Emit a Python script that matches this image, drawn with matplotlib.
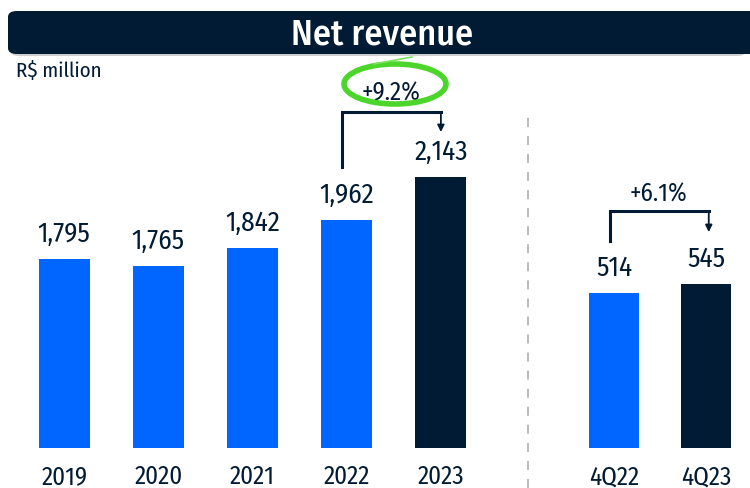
import matplotlib.pyplot as plt
from matplotlib.patches import FancyBboxPatch, Arc
from matplotlib.lines import Line2D

# data
years = ["2019", "2020", "2021", "2022", "2023"]
annual = [1795, 1765, 1842, 1962, 2143]
quarters = ["4Q22", "4Q23"]
quarterly = [514, 545]

blue = "#0066FF"
navy = "#001B33"
plt.rcParams["font.family"] = ["Fira Sans Condensed", "DejaVu Sans"]

W, H = 750, 489
fig = plt.figure(figsize=(W / 100, H / 100), dpi=100)


def px(x, y):
    # pixel (from top-left) -> figure fraction
    return x / W, 1 - y / H


def box(x0, x1, y_top, y_bot):
    return [x0 / W, 1 - y_bot / H, (x1 - x0) / W, (y_bot - y_top) / H]


# title bar
shadow = FancyBboxPatch(px(10, 57), 0.995 - 10 / W, 43 / H,
                        boxstyle="round,pad=0,rounding_size=0.012",
                        transform=fig.transFigure, fc="#b0b0b0", ec="none", alpha=0.6)
bar = FancyBboxPatch(px(8, 55), 1.02 - 8 / W, 43 / H,
                     boxstyle="round,pad=0,rounding_size=0.012",
                     transform=fig.transFigure, fc=navy, ec="none")
fig.patches.extend([shadow, bar])
fig.text(*px(382, 35), "Net revenue", color="white", fontsize=26,
         fontweight="medium", ha="center", va="center")
fig.text(*px(16, 71), "R$ million", color=navy, fontsize=15, ha="left", va="center")

# annual panel
ax1 = fig.add_axes(box(17, 488, 100, 449))
x1 = range(len(years))
ax1.bar(x1, annual, width=0.54, color=[blue] * 4 + [navy])
ax1.set_xlim(-0.5, 4.5)
ax1.set_ylim(993, 2474)
for i, v in enumerate(annual):
    ax1.annotate(f"{v:,}", (i, v), xytext=(0, 13), textcoords="offset points",
                 ha="center", va="baseline", fontsize=19.5, color=navy)

# quarterly panel
ax2 = fig.add_axes(box(568, 752, 100, 449))
x2 = range(len(quarters))
ax2.bar(x2, quarterly, width=0.55, color=[blue, navy])
ax2.set_xlim(-0.5, 1.5)
ax2.set_ylim(0, 1159)
for i, v in enumerate(quarterly):
    ax2.annotate(f"{v:,}", (i, v), xytext=(0, 13), textcoords="offset points",
                 ha="center", va="baseline", fontsize=19.5, color=navy)

for ax, labels in ((ax1, years), (ax2, quarters)):
    ax.set_xticks(range(len(labels)))
    ax.set_xticklabels(labels, fontsize=18, color=navy)
    ax.tick_params(axis="x", length=0, pad=11)
    ax.set_yticks([])
    for s in ax.spines.values():
        s.set_visible(False)
    ax.patch.set_alpha(0)

# growth brackets
ax1.plot([2.95, 2.95, 4.0], [2186, 2419, 2419], color=navy, lw=2.2,
         solid_joinstyle="miter", clip_on=False)
ax1.annotate("", xy=(4.0, 2322), xytext=(4.0, 2420),
             arrowprops=dict(arrowstyle="-|>", color=navy, lw=1.3, mutation_scale=10))
ax1.text(3.47, 2502, "+9.2%", ha="center", va="center", fontsize=18, color=navy)

ax2.plot([-0.04, -0.04, 1.03], [688, 787, 787], color=navy, lw=2.2,
         solid_joinstyle="miter", clip_on=False)
ax2.annotate("", xy=(1.03, 708), xytext=(1.03, 788),
             arrowprops=dict(arrowstyle="-|>", color=navy, lw=1.3, mutation_scale=10))
ax2.text(0.48, 847, "+6.1%", ha="center", va="center", fontsize=18, color=navy)

# green hand-drawn circle
fig.add_artist(Arc(px(395, 85), 102 / W, 40 / H, theta1=0, theta2=360,
                   transform=fig.transFigure, color="#4CD62B", lw=4))
fig.add_artist(Line2D([374 / W, 412 / W], [1 - 65 / H, 1 - 58 / H],
                      transform=fig.transFigure, color="#7BE35E", lw=1.2))

# separator
fig.add_artist(Line2D([528 / W, 528 / W], [0, 1 - 115 / H], transform=fig.transFigure,
                      color="#b5b5b5", lw=1.3, ls=(0, (5, 5))))

fig.savefig("out.png", dpi=100)
